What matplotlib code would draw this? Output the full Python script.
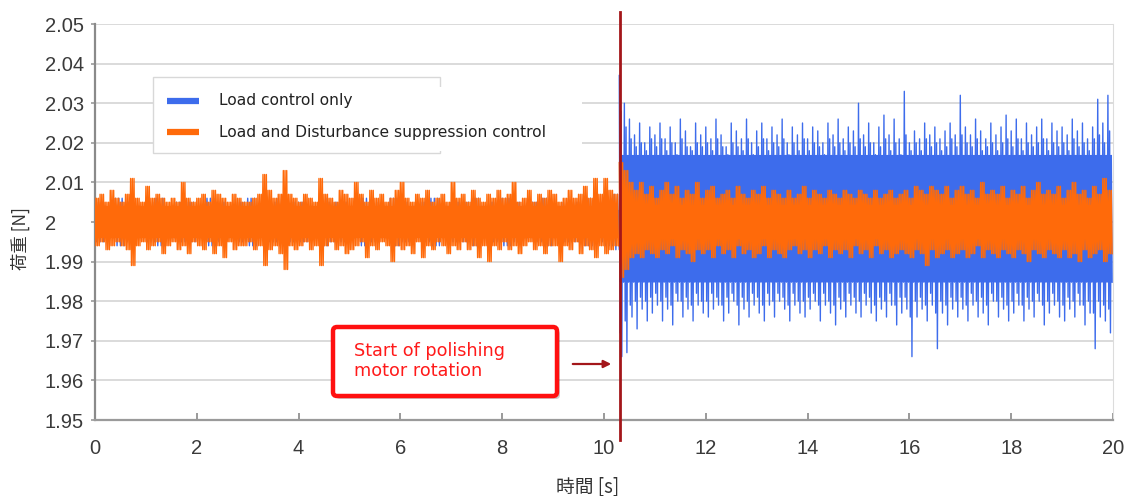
import numpy as np
import matplotlib
matplotlib.use("Agg")
import matplotlib.pyplot as plt
from matplotlib.patches import FancyBboxPatch, Rectangle, FancyArrowPatch
from matplotlib.lines import Line2D
from matplotlib.transforms import IdentityTransform
from matplotlib.ticker import FuncFormatter

# ---------------- data ----------------
series_names = ["Load control only", "Load and Disturbance suppression control"]
x_label = "時間 [s]"
y_label = "荷重 [N]"
x_ticks = [0, 2, 4, 6, 8, 10, 12, 14, 16, 18, 20]
y_ticks = [1.95, 1.96, 1.97, 1.98, 1.99, 2.00, 2.01, 2.02, 2.03, 2.04, 2.05]
motor_start = 10.32
annotation_text = "Start of polishing\nmotor rotation"

# orange (load + disturbance suppression): peak values every 0.1 s, 0.0 .. 19.9 s
orange_t0, orange_dt = 0.0, 0.1
orange_hi = [
    2.006, 2.007, 2.005, 2.008, 2.006, 2.005, 2.007, 2.011, 2.006, 2.005,
    2.009, 2.006, 2.007, 2.006, 2.005, 2.006, 2.005, 2.010, 2.006, 2.005,
    2.006, 2.007, 2.005, 2.008, 2.007, 2.006, 2.005, 2.007, 2.006, 2.005,
    2.005, 2.006, 2.007, 2.012, 2.008, 2.006, 2.007, 2.013, 2.007, 2.006,
    2.005, 2.007, 2.006, 2.005, 2.011, 2.007, 2.006, 2.005, 2.008, 2.007,
    2.006, 2.010, 2.007, 2.005, 2.008, 2.006, 2.007, 2.005, 2.006, 2.008,
    2.010, 2.006, 2.005, 2.007, 2.006, 2.008, 2.005, 2.006, 2.007, 2.005,
    2.010, 2.006, 2.007, 2.005, 2.008, 2.006, 2.005, 2.007, 2.006, 2.008,
    2.006, 2.007, 2.010, 2.005, 2.006, 2.008, 2.005, 2.007, 2.006, 2.008,
    2.007, 2.005, 2.006, 2.008, 2.006, 2.007, 2.009, 2.006, 2.011, 2.007,
    2.011, 2.008, 2.007, 2.015, 2.013, 2.010, 2.008, 2.010, 2.007, 2.009,
    2.006, 2.008, 2.010, 2.007, 2.009, 2.006, 2.008, 2.007, 2.010, 2.006,
    2.008, 2.009, 2.006, 2.007, 2.008, 2.006, 2.009, 2.007, 2.006, 2.008,
    2.007, 2.009, 2.006, 2.008, 2.007, 2.006, 2.008, 2.006, 2.007, 2.009,
    2.006, 2.008, 2.007, 2.006, 2.008, 2.007, 2.006, 2.008, 2.007, 2.006,
    2.008, 2.007, 2.006, 2.008, 2.006, 2.007, 2.008, 2.006, 2.007, 2.008,
    2.006, 2.009, 2.008, 2.007, 2.009, 2.008, 2.007, 2.009, 2.006, 2.008,
    2.009, 2.007, 2.008, 2.006, 2.010, 2.007, 2.008, 2.007, 2.009, 2.006,
    2.008, 2.007, 2.009, 2.006, 2.008, 2.010, 2.007, 2.008, 2.007, 2.009,
    2.006, 2.008, 2.010, 2.007, 2.008, 2.006, 2.009, 2.007, 2.011, 2.008,
]
orange_lo = [
    1.994, 1.995, 1.993, 1.994, 1.995, 1.994, 1.993, 1.989, 1.994, 1.995,
    1.993, 1.994, 1.995, 1.992, 1.994, 1.995, 1.993, 1.994, 1.992, 1.995,
    1.994, 1.993, 1.995, 1.992, 1.994, 1.991, 1.995, 1.993, 1.994, 1.994,
    1.995, 1.993, 1.994, 1.989, 1.993, 1.994, 1.992, 1.988, 1.994, 1.993,
    1.994, 1.995, 1.993, 1.994, 1.989, 1.994, 1.995, 1.993, 1.994, 1.992,
    1.993, 1.994, 1.995, 1.991, 1.994, 1.993, 1.995, 1.994, 1.990, 1.994,
    1.993, 1.994, 1.992, 1.995, 1.991, 1.994, 1.993, 1.995, 1.994, 1.992,
    1.994, 1.993, 1.995, 1.993, 1.994, 1.991, 1.994, 1.990, 1.994, 1.993,
    1.995, 1.993, 1.994, 1.992, 1.994, 1.995, 1.993, 1.994, 1.992, 1.994,
    1.994, 1.990, 1.994, 1.993, 1.995, 1.992, 1.994, 1.993, 1.991, 1.994,
    1.992, 1.993, 1.994, 1.986, 1.988, 1.991, 1.992, 1.991, 1.993, 1.992,
    1.991, 1.993, 1.992, 1.994, 1.991, 1.993, 1.992, 1.990, 1.993, 1.992,
    1.993, 1.991, 1.994, 1.992, 1.993, 1.991, 1.994, 1.992, 1.993, 1.991,
    1.992, 1.994, 1.991, 1.993, 1.992, 1.991, 1.993, 1.994, 1.992, 1.993,
    1.991, 1.993, 1.992, 1.994, 1.991, 1.993, 1.992, 1.993, 1.991, 1.994,
    1.992, 1.993, 1.991, 1.994, 1.992, 1.993, 1.991, 1.992, 1.993, 1.992,
    1.991, 1.993, 1.992, 1.989, 1.993, 1.991, 1.992, 1.993, 1.991, 1.992,
    1.993, 1.991, 1.992, 1.994, 1.991, 1.993, 1.992, 1.991, 1.993, 1.992,
    1.991, 1.993, 1.992, 1.990, 1.993, 1.992, 1.991, 1.993, 1.992, 1.991,
    1.993, 1.991, 1.992, 1.990, 1.993, 1.991, 1.992, 1.993, 1.990, 1.992,
]
orange_split = 103                      # index of 10.3 s (motor start)
orange_core_pre = (1.9960, 2.0040)      # solid band before motor start
orange_core_post = (1.9958, 2.0042)     # solid band after motor start

# blue (load control only) before motor start: peaks every 0.2 s, 0.0 .. 10.2 s
blue_pre_t0, blue_pre_dt = 0.0, 0.2
blue_pre_hi = [
    2.005, 2.004, 2.006, 2.005, 2.004, 2.005, 2.006, 2.004, 2.005, 2.005,
    2.004, 2.006, 2.005, 2.004, 2.005, 2.006, 2.004, 2.005, 2.006, 2.005,
    2.005, 2.004, 2.006, 2.005, 2.005, 2.004, 2.006, 2.005, 2.004, 2.006,
    2.005, 2.004, 2.005, 2.006, 2.004, 2.005, 2.005, 2.006, 2.004, 2.005,
    2.006, 2.005, 2.004, 2.005, 2.006, 2.004, 2.005, 2.005, 2.006, 2.005,
    2.006, 2.007,
]
blue_pre_lo = [
    1.995, 1.996, 1.994, 1.995, 1.996, 1.995, 1.994, 1.996, 1.995, 1.995,
    1.996, 1.994, 1.995, 1.996, 1.995, 1.994, 1.996, 1.995, 1.994, 1.995,
    1.995, 1.996, 1.994, 1.995, 1.995, 1.996, 1.994, 1.995, 1.996, 1.994,
    1.995, 1.996, 1.995, 1.994, 1.996, 1.995, 1.995, 1.994, 1.996, 1.995,
    1.994, 1.995, 1.996, 1.995, 1.994, 1.996, 1.995, 1.995, 1.994, 1.995,
    1.994, 1.993,
]
blue_pre_core = (1.9970, 2.0030)

# blue after motor start: peaks every 0.1 s, 10.3 .. 19.9 s
blue_post_t0, blue_post_dt = 10.3, 0.1
blue_post_hi = [
    2.037, 2.030, 2.026, 2.022, 2.025, 2.020, 2.024,
    2.022, 2.025, 2.021, 2.024, 2.020, 2.026, 2.023, 2.019, 2.025, 2.022,
    2.024, 2.021, 2.026, 2.022, 2.019, 2.025, 2.023, 2.021, 2.026, 2.020,
    2.023, 2.025, 2.021, 2.024, 2.022, 2.026, 2.020, 2.024, 2.022, 2.025,
    2.021, 2.024, 2.023, 2.020, 2.025, 2.022, 2.026, 2.021, 2.024, 2.023,
    2.030, 2.022, 2.025, 2.020, 2.024, 2.027, 2.022, 2.026, 2.021, 2.033,
    2.020, 2.023, 2.021, 2.025, 2.022, 2.024, 2.021, 2.023, 2.025, 2.022,
    2.032, 2.024, 2.022, 2.026, 2.023, 2.021, 2.025, 2.022, 2.024, 2.027,
    2.023, 2.026, 2.021, 2.025, 2.022, 2.024, 2.026, 2.021, 2.025, 2.023,
    2.024, 2.022, 2.026, 2.023, 2.025, 2.021, 2.024, 2.031, 2.025, 2.032,
]
blue_post_mid_hi = [
    2.028, 2.024, 2.021, 2.019, 2.020, 2.018, 2.021,
    2.019, 2.021, 2.018, 2.020, 2.017, 2.021, 2.019, 2.018, 2.020, 2.019,
    2.020, 2.018, 2.021, 2.019, 2.017, 2.020, 2.019, 2.018, 2.021, 2.017,
    2.019, 2.021, 2.018, 2.020, 2.019, 2.021, 2.017, 2.020, 2.018, 2.021,
    2.018, 2.020, 2.019, 2.017, 2.021, 2.019, 2.020, 2.018, 2.020, 2.019,
    2.021, 2.019, 2.020, 2.017, 2.019, 2.021, 2.018, 2.020, 2.017, 2.022,
    2.018, 2.020, 2.018, 2.021, 2.019, 2.020, 2.018, 2.019, 2.021, 2.019,
    2.022, 2.020, 2.019, 2.021, 2.018, 2.019, 2.020, 2.018, 2.020, 2.021,
    2.019, 2.021, 2.018, 2.020, 2.019, 2.020, 2.021, 2.018, 2.020, 2.019,
    2.020, 2.018, 2.021, 2.019, 2.020, 2.018, 2.021, 2.022, 2.020, 2.023,
]
blue_post_lo = [
    1.966, 1.967, 1.976, 1.973, 1.978, 1.975, 1.977,
    1.979, 1.975, 1.978, 1.974, 1.980, 1.976, 1.978, 1.975, 1.979, 1.977,
    1.976, 1.978, 1.979, 1.975, 1.977, 1.980, 1.974, 1.978, 1.976, 1.979,
    1.977, 1.975, 1.979, 1.976, 1.980, 1.978, 1.975, 1.979, 1.977, 1.976,
    1.978, 1.980, 1.975, 1.979, 1.977, 1.974, 1.978, 1.976, 1.979, 1.977,
    1.976, 1.979, 1.977, 1.975, 1.978, 1.976, 1.979, 1.974, 1.977, 1.978,
    1.966, 1.976, 1.978, 1.975, 1.979, 1.968, 1.977, 1.974, 1.978, 1.976,
    1.978, 1.975, 1.979, 1.976, 1.977, 1.974, 1.980, 1.976, 1.978, 1.975,
    1.977, 1.979, 1.975, 1.978, 1.976, 1.980, 1.974, 1.977, 1.979, 1.976,
    1.975, 1.978, 1.976, 1.979, 1.974, 1.977, 1.968, 1.976, 1.975, 1.972,
]
blue_post_mid_lo = [
    1.972, 1.975, 1.979, 1.980, 1.981, 1.980, 1.981,
    1.982, 1.980, 1.981, 1.979, 1.982, 1.980, 1.981, 1.979, 1.982, 1.980,
    1.980, 1.982, 1.981, 1.979, 1.981, 1.982, 1.979, 1.981, 1.980, 1.982,
    1.981, 1.979, 1.982, 1.980, 1.982, 1.981, 1.979, 1.982, 1.980, 1.980,
    1.981, 1.982, 1.979, 1.982, 1.980, 1.979, 1.981, 1.980, 1.982, 1.981,
    1.980, 1.982, 1.981, 1.979, 1.981, 1.980, 1.982, 1.979, 1.981, 1.981,
    1.976, 1.980, 1.981, 1.979, 1.982, 1.977, 1.980, 1.979, 1.981, 1.980,
    1.981, 1.979, 1.982, 1.980, 1.981, 1.979, 1.982, 1.980, 1.981, 1.979,
    1.980, 1.982, 1.979, 1.981, 1.980, 1.982, 1.979, 1.980, 1.982, 1.980,
    1.979, 1.981, 1.980, 1.982, 1.979, 1.980, 1.977, 1.980, 1.979, 1.978,
]
blue_post_core = (1.9848, 2.0168)

# ---------------- styling ----------------
W, H, DPI = 1127, 496, 100
BLUE = "#3d6cec"
ORANGE = "#ff6a0a"
DARKRED = "#a3161a"
GRID = "#d4d4d4"
TICKC = "#3a3a3a"


def block_trace(t0, dt, hi, lo):
    """Dense oscillation between the read upper and lower peaks of each step."""
    ts, vs = [], []
    for i, (h, l) in enumerate(zip(hi, lo)):
        t = t0 + i * dt
        for k, v in enumerate((h, l, h, l, h, l)):
            ts.append(t + k * dt / 6.0)
            vs.append(v)
    return np.array(ts), np.array(vs)


def spike_trace(t0, dt, hi, mid_hi, lo, mid_lo, core):
    """Read outer spikes and mid peaks around the solid band."""
    c_lo, c_hi = core
    ts, vs = [], []
    for i in range(len(hi)):
        t = t0 + i * dt
        for k, v in enumerate((hi[i], mid_lo[i], mid_hi[i], lo[i], c_hi, c_lo)):
            ts.append(t + k * dt / 6.0)
            vs.append(v)
    return np.array(ts), np.array(vs)


def band(ax, ts, core, color, z):
    ax.fill_between([ts[0], ts[-1]], core[0], core[1], color=color, lw=0, zorder=z)


fig = plt.figure(figsize=(W / DPI, H / DPI), dpi=DPI)
ax = fig.add_axes([95 / W, 1 - 420 / H, (1113 - 95) / W, (420 - 24) / H])
LW = 1.0

# blue first (underneath)
ts, vs = block_trace(blue_pre_t0, blue_pre_dt, blue_pre_hi, blue_pre_lo)
band(ax, ts, blue_pre_core, BLUE, 2)
ax.plot(ts, vs, color=BLUE, lw=LW, zorder=2)
ts, vs = spike_trace(blue_post_t0, blue_post_dt, blue_post_hi, blue_post_mid_hi,
                     blue_post_lo, blue_post_mid_lo, blue_post_core)
band(ax, ts, blue_post_core, BLUE, 2)
ax.plot(ts, vs, color=BLUE, lw=LW, zorder=2)

# orange on top
ts, vs = block_trace(orange_t0, orange_dt, orange_hi[:orange_split],
                     orange_lo[:orange_split])
band(ax, ts, orange_core_pre, ORANGE, 3)
ax.plot(ts, vs, color=ORANGE, lw=LW, zorder=3)
ts, vs = block_trace(orange_t0 + orange_split * orange_dt, orange_dt,
                     orange_hi[orange_split:], orange_lo[orange_split:])
band(ax, ts, orange_core_post, ORANGE, 3)
ax.plot(ts, vs, color=ORANGE, lw=LW, zorder=3)

ax.set_xlim(x_ticks[0], x_ticks[-1])
ax.set_ylim(y_ticks[0], y_ticks[-1])
ax.set_xticks(x_ticks)
ax.set_yticks(y_ticks)
ax.yaxis.set_major_formatter(FuncFormatter(lambda v, p: "%g" % round(v, 2)))
ax.grid(axis="y", color=GRID, lw=1.2, zorder=0)
ax.set_axisbelow(True)

ax.spines["top"].set_visible(False)
ax.spines["right"].set_color("#dcdcdc")
ax.spines["left"].set_color("#8a8a8a")
ax.spines["left"].set_linewidth(1.6)
ax.spines["bottom"].set_color("#9a9a9a")
ax.spines["bottom"].set_linewidth(1.6)

ax.tick_params(axis="x", direction="in", length=5, width=1.4, color="#9a9a9a",
               labelsize=14.5, labelcolor=TICKC, pad=14)
# y tick labels are left aligned, starting about 50 px left of the axis
ax.tick_params(axis="y", direction="out", length=3, width=1.2, color="#9a9a9a",
               labelsize=14.5, labelcolor=TICKC, pad=33)
for lab in ax.get_xticklabels() + ax.get_yticklabels():
    lab.set_family("Liberation Sans")
for lab in ax.get_yticklabels():
    lab.set_horizontalalignment("left")

ax.set_xlabel(x_label, family=["Noto Sans CJK JP", "DejaVu Sans"], fontsize=13.5,
              color="#333333")
ax.set_ylabel(y_label, family=["Noto Sans CJK JP", "DejaVu Sans"], fontsize=12.5,
              color="#333333")
ax.xaxis.label.set_va("center")
ax.yaxis.label.set_va("center")
ax.xaxis.set_label_coords((588 - 95) / (1113 - 95), -(487 - 420) / (420 - 24))
ax.yaxis.set_label_coords(-(95 - 20) / (1113 - 95), (420 - 238) / (420 - 24))

# motor start line
ax.axvline(motor_start, ymin=-0.05, ymax=1.03, color=DARKRED, lw=2.0, clip_on=False,
           zorder=5)

# ---------------- legend (drawn in pixel space) ----------------
def P(x, y):
    return (x, H - y)

legend_frame = Rectangle(P(153, 153), 440 - 153, 153 - 77, transform=IdentityTransform(),
                         facecolor="white", edgecolor="#d8d8d8", lw=1.0, zorder=10)
fig.add_artist(legend_frame)
legend_bg = Rectangle(P(200, 151), 582 - 200, 151 - 87, transform=IdentityTransform(),
                      facecolor="white", edgecolor="none", zorder=11)
fig.add_artist(legend_bg)
for yy, col, name in ((101, BLUE, series_names[0]), (132, ORANGE, series_names[1])):
    fig.add_artist(Line2D([167, 199], [H - yy, H - yy], transform=IdentityTransform(),
                          color=col, lw=4.5, solid_capstyle="butt", zorder=12))
    fig.text(219 / W, 1 - yy / H, name, fontsize=11.2, family="DejaVu Sans",
             color="#222222", va="center", ha="left", zorder=12)

# ---------------- annotation box ----------------
shadow = FancyBboxPatch(P(336, 399), 557 - 333, 396 - 327,
                        boxstyle="round,pad=0,rounding_size=4",
                        transform=IdentityTransform(), facecolor="#00000030",
                        edgecolor="none", zorder=13)
fig.add_artist(shadow)
box = FancyBboxPatch(P(333, 396), 557 - 333, 396 - 327,
                     boxstyle="round,pad=0,rounding_size=4",
                     transform=IdentityTransform(), facecolor="white",
                     edgecolor="#ff1010", lw=3.2, zorder=14)
fig.add_artist(box)
fig.text(354 / W, 1 - 361 / H, annotation_text, fontsize=12.7, family="DejaVu Sans",
         color="#ff1a1a", va="center", ha="left", linespacing=1.2, zorder=15)
arrow = FancyArrowPatch(P(570, 364), P(614, 364), transform=IdentityTransform(),
                        arrowstyle="-|>", mutation_scale=11, color=DARKRED, lw=1.6,
                        zorder=15)
fig.add_artist(arrow)

fig.savefig("out.png", dpi=DPI, facecolor="white")
